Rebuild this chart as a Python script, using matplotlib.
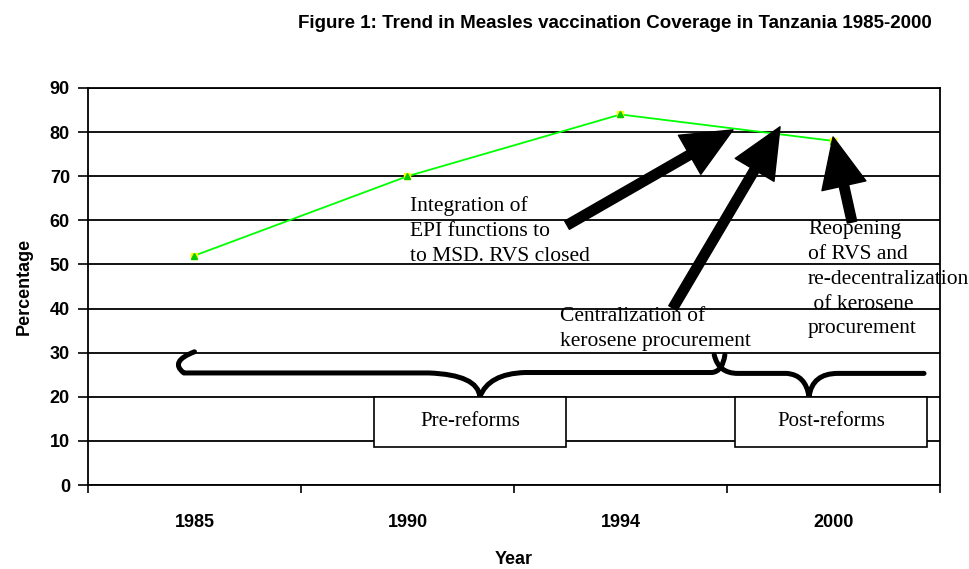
import matplotlib
matplotlib.use("Agg")
import matplotlib.pyplot as plt
from matplotlib.patches import Rectangle, FancyArrowPatch, PathPatch
from matplotlib.path import Path

years = ["1985", "1990", "1994", "2000"]
coverage = [52, 70, 84, 78]
yticks = [0, 10, 20, 30, 40, 50, 60, 70, 80, 90]

fig = plt.figure(figsize=(9.7, 5.69), dpi=100)
ax = fig.add_axes([88/970, 84/569, 852/970, 397/569])

x = list(range(len(years)))
ax.set_xlim(-0.5, len(years) - 0.5)
ax.set_ylim(0, 90)

for yv in yticks:
    ax.axhline(yv, color="black", lw=1.3, zorder=1)

ax.plot(x, coverage, color="#00ff00", lw=1.3, zorder=3)
ax.plot(x, coverage, ls="none", marker="s", ms=5, mfc="yellow", mec="yellow", zorder=4)
ax.plot(x, coverage, ls="none", marker="^", ms=5, mfc="#00cc00", mec="#00cc00", zorder=5)

sans = "Liberation Sans"
ax.set_yticks(yticks)
ax.set_yticklabels([str(v) for v in yticks], fontsize=13, fontweight="bold", family=sans)
ax.set_xticks(x)
ax.set_xticklabels(years, fontsize=13, fontweight="bold", family=sans)
ax.set_xticks([i - 0.5 for i in range(len(years) + 1)], minor=True)
ax.tick_params(axis="x", which="major", length=0, pad=21)
ax.tick_params(axis="x", which="minor", length=6, width=1.2, direction="out")
ax.tick_params(axis="y", length=7, width=1.2, direction="out", pad=6)
for s in ax.spines.values():
    s.set_color("black")
    s.set_linewidth(1.3)

ax.set_ylabel("Percentage", fontsize=13, fontweight="bold", family=sans, labelpad=12)
ax.set_xlabel("Year", fontsize=13, fontweight="bold", family=sans, labelpad=14)
fig.text(0.634, 0.958, "Figure 1: Trend in Measles vaccination Coverage in Tanzania 1985-2000",
         ha="center", va="center", fontsize=13.5, fontweight="bold", family=sans)

serif = "Liberation Serif"
fs = 15.5
ls = 1.42
ax.text(1.012, 65.4, "Integration of\nEPI functions to\nto MSD. RVS closed", fontsize=fs,
        family=serif, va="top", ha="left", linespacing=ls, zorder=6)
ax.text(1.716, 40.3, "Centralization of\nkerosene procurement", fontsize=fs,
        family=serif, va="top", ha="left", linespacing=ls, zorder=6)
ax.text(2.88, 60.1, "Reopening\nof RVS and\nre-decentralization\n of kerosene\nprocurement", fontsize=fs,
        family=serif, va="top", ha="left", linespacing=ls, zorder=6)

def arrow(tail, tip):
    a = FancyArrowPatch(tail, tip, arrowstyle="simple,head_length=2.0,head_width=1.8,tail_width=0.38",
                        mutation_scale=18, color="black", zorder=7, shrinkA=0, shrinkB=0)
    ax.add_patch(a)

arrow((1.749, 58.9), (2.528, 80.5))
arrow((2.246, 40.1), (2.749, 81.2))
arrow((3.087, 59.6), (2.998, 78.9))

# braces
C = Path.CURVE3
M, L = Path.MOVETO, Path.LINETO
verts1 = [(0.0, 30.2), (-0.12, 28.0), (-0.05, 25.4),
          (1.10, 25.4),
          (1.33, 25.0), (1.34, 20.0),
          (1.38, 25.2), (1.55, 25.5),
          (2.43, 25.5),
          (2.48, 25.8), (2.49, 29.5)]
codes1 = [M, C, C, L, C, C, C, C, L, C, C]
ax.add_patch(PathPatch(Path(verts1, codes1), fill=False, lw=3.6, color="black", zorder=6,
                       capstyle="round", joinstyle="round"))
verts2 = [(2.44, 29.5), (2.46, 25.3), (2.55, 25.3),
          (2.78, 25.3),
          (2.87, 25.0), (2.885, 20.0),
          (2.90, 25.3), (3.02, 25.3),
          (3.425, 25.3)]
codes2 = [M, C, C, L, C, C, C, C, L]
ax.add_patch(PathPatch(Path(verts2, codes2), fill=False, lw=3.6, color="black", zorder=6,
                       capstyle="round", joinstyle="round"))

for (x0, x1, label) in [(0.843, 1.744, "Pre-reforms"), (2.538, 3.439, "Post-reforms")]:
    ax.add_patch(Rectangle((x0, 8.6), x1 - x0, 11.35, facecolor="white", edgecolor="black",
                           lw=1.2, zorder=6))
    ax.text((x0 + x1) / 2, 14.3, label, ha="center", va="center", fontsize=15,
            family=serif, zorder=7)

fig.savefig("out.png", dpi=100)
